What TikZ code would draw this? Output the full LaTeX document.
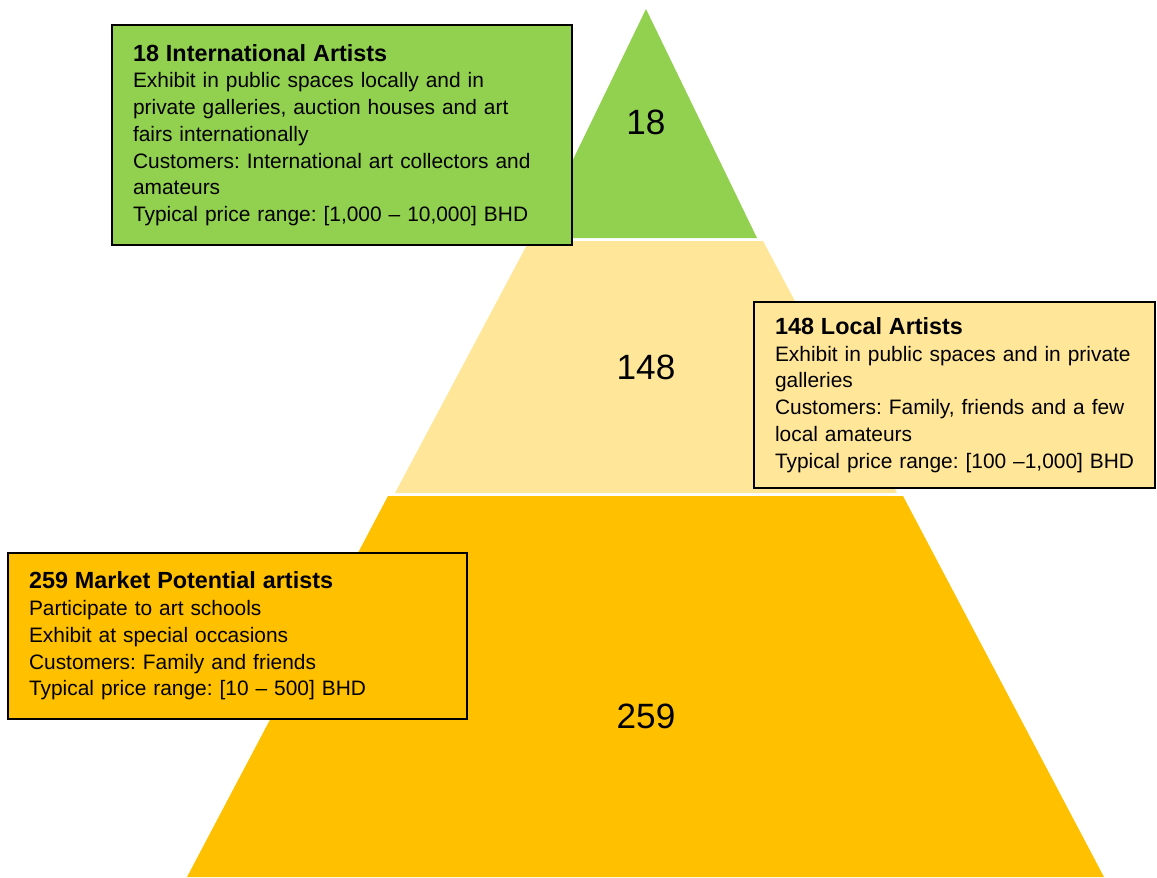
\documentclass[tikz,border=0pt]{standalone}
\usepackage{fontspec}
\setmainfont{Liberation Sans}
\frenchspacing
\definecolor{topgreen}{HTML}{92D050}
\definecolor{midyellow}{HTML}{FFE699}
\definecolor{basegold}{HTML}{FFC000}
\newcommand{\boxtitle}[1]{{\fontsize{13.3pt}{15.2pt}\selectfont\textbf{#1}}}
\begin{document}
\begin{tikzpicture}[
    x=0.02cm,
    y=-0.02cm,
    layer/.style={fill=#1, draw=none},
    infobox/.style={draw=black, line width=1.1pt, fill=#1, align=left,
      inner xsep=0.42cm, inner ysep=0pt,
      font=\fontsize{11.9pt}{15.2pt}\selectfont},
    count/.style={font=\fontsize{20pt}{24pt}\selectfont}
]
\useasboundingbox (0,0) rectangle (1157,877);
% pyramid layers
\path[layer=topgreen] (646,9) -- (757,238) -- (535,238) -- cycle;
\path[layer=midyellow] (529,241) -- (763,241) -- (897,493) -- (395,493) -- cycle;
\path[layer=basegold] (388,496) -- (903,496) -- (1104,877) -- (187,877) -- cycle;
\node[count] (n18) at (646,122) {18};
\node[count] (n148) at (646,367) {148};
\node[count] (n259) at (646,716) {259};
% descriptions
\node[infobox=topgreen, text width=8.36cm, minimum height=4.4cm] (intl) at (342,135)
  {\boxtitle{18 International Artists}\\
   Exhibit in public spaces locally and in\\
   private galleries, auction houses and art\\
   fairs internationally\\
   Customers: International art collectors and\\
   amateurs\\
   Typical price range: [1,000 – 10,000] BHD};
\node[infobox=midyellow, text width=7.18cm, minimum height=3.72cm] (local) at (954.5,395)
  {\boxtitle{148 Local Artists}\\
   Exhibit in public spaces and in private\\
   galleries\\
   Customers: Family, friends and a few\\
   local amateurs\\
   \mbox{Typical price range: [100 –1,000] BHD}};
\node[infobox=basegold, text width=8.34cm, minimum height=3.32cm] (potential) at (237.5,636)
  {\boxtitle{259 Market Potential artists}\\
   Participate to art schools\\
   Exhibit at special occasions\\
   Customers: Family and friends\\
   Typical price range: [10 – 500] BHD};
\end{tikzpicture}
\end{document}
